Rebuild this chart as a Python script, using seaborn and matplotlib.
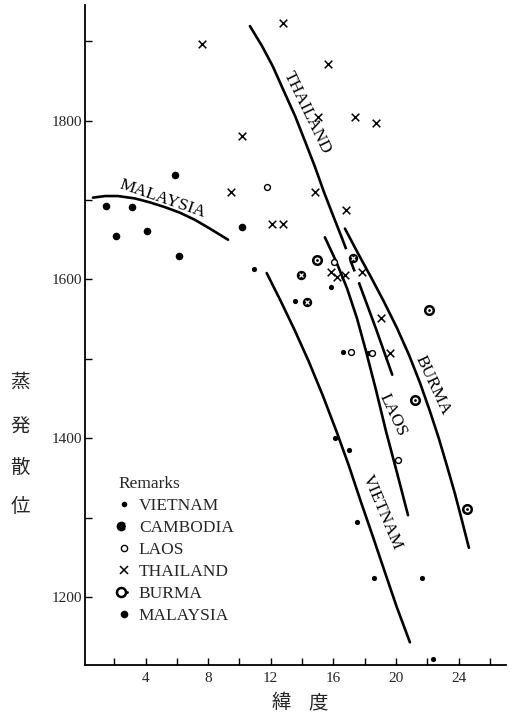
import matplotlib
matplotlib.use("Agg")
import matplotlib.pyplot as plt
from matplotlib.lines import Line2D
from matplotlib.legend_handler import HandlerTuple
import seaborn as sns
import pandas as pd

# ---- observations: latitude (deg) vs potential evapotranspiration ----
vietnam_lat = [10.93, 15.85, 13.55, 16.63, 18.20, 16.10, 17.02, 17.53, 18.60, 21.64, 22.34]
vietnam_pe = [1613, 1590, 1573, 1508, 1507, 1400, 1385, 1294, 1224, 1224, 1122]

cambodia_lat = [13.93, 14.29, 17.27]
cambodia_pe = [1606, 1572, 1627]

laos_lat = [11.74, 16.04, 17.10, 18.50, 20.15]
laos_pe = [1716, 1622, 1508, 1507, 1372]

thailand_lat = [7.58, 10.14, 9.44, 12.06, 12.80, 12.80, 15.63, 15.04, 17.38, 18.70,
                14.82, 16.78, 15.85, 16.21, 16.74, 17.80, 19.02, 19.60]
thailand_pe = [1896, 1781, 1710, 1670, 1670, 1923, 1871, 1804, 1804, 1797,
               1710, 1687, 1609, 1603, 1606, 1609, 1552, 1507]

burma_lat = [14.93, 22.13, 21.21, 24.52]
burma_pe = [1624, 1562, 1448, 1311]

malaysia_lat = [1.45, 3.15, 2.11, 4.07, 5.88, 6.13, 10.18]
malaysia_pe = [1692, 1691, 1655, 1661, 1731, 1629, 1666]

# ---- hand-drawn trend curves ----
malaysia_curve_x = [0.64, 1.41, 2.24, 3.32, 4.28, 5.24, 6.20, 7.16, 8.11, 9.27]
malaysia_curve_y = [1703, 1705, 1705, 1702, 1697, 1691, 1684, 1675, 1664, 1650]

thailand_curve_x = [10.67, 11.44, 12.14, 12.84, 13.55, 14.19, 14.82, 15.40, 15.97, 16.55]
thailand_curve_y = [1919, 1894, 1868, 1837, 1806, 1774, 1742, 1710, 1681, 1652]
thailand_dash_x = [16.55, 17.65]
thailand_dash_y = [1652, 1595]
thailand_tail_x = [17.65, 18.72, 19.76]
thailand_tail_y = [1595, 1538, 1480]

laos_curve_x = [15.46, 16.17, 16.87, 17.51, 18.08, 18.72, 19.36, 20.06, 20.77]
laos_curve_y = [1653, 1623, 1589, 1551, 1510, 1461, 1409, 1357, 1303]

burma_curve_x = [16.74, 17.57, 18.40, 19.23, 20.06, 20.83, 21.53, 22.17, 22.75,
                 23.26, 23.77, 24.22, 24.66]
burma_curve_y = [1664, 1633, 1603, 1572, 1539, 1505, 1470, 1434, 1399,
                 1365, 1330, 1296, 1262]

vietnam_curve_x = [11.74, 12.63, 13.53, 14.42, 15.32, 16.21, 16.98, 17.74, 18.51,
                   19.28, 20.04, 20.89]
vietnam_curve_y = [1608, 1573, 1536, 1497, 1454, 1408, 1366, 1321, 1277,
                   1232, 1188, 1143]

curve_labels = ["MALAYSIA", "THAILAND", "BURMA", "LAOS", "VIETNAM"]
label_x = [5.11, 14.30, 22.33, 19.78, 19.09]
label_y = [1701, 1810, 1467, 1429, 1307]
label_rot = [-19, -64, -65, -65, -67]

x_major = [4, 8, 12, 16, 20, 24]
x_minor = [2, 6, 10, 14, 18, 22, 26]
y_major = [1200, 1400, 1600, 1800]
y_minor = [1300, 1500, 1700, 1900]

ylabel_chars = ["蒸", "発", "散", "位"]
xlabel_chars = ["緯", "度"]

# ---------------------------------------------------------------------
sns.set_style("ticks")
SERIF = ["Liberation Serif", "DejaVu Serif"]
CJK = ["Noto Sans CJK JP", "DejaVu Sans"]
plt.rcParams["font.family"] = SERIF

W, H = 511, 717
fig = plt.figure(figsize=(W / 100, H / 100), dpi=100)
fig.patch.set_facecolor("white")
ax = fig.add_axes([84.5 / W, 1 - 665 / H, (506 - 84.5) / W, (665 - 5) / H])
ax.set_facecolor("white")


def df(x, y):
    return pd.DataFrame({"lat": x, "pe": y})


# trend curves
line_kw = dict(color="black", linewidth=1.9, sort=False, estimator=None, ax=ax, legend=False)
for cx, cy in [(malaysia_curve_x, malaysia_curve_y), (thailand_curve_x, thailand_curve_y),
               (thailand_tail_x, thailand_tail_y), (laos_curve_x, laos_curve_y),
               (burma_curve_x, burma_curve_y), (vietnam_curve_x, vietnam_curve_y)]:
    sns.lineplot(data=df(cx, cy), x="lat", y="pe", **line_kw)
    ax.lines[-1].set_solid_joinstyle("round")
sns.lineplot(data=df(thailand_dash_x, thailand_dash_y), x="lat", y="pe", **line_kw)
ax.lines[-1].set_dashes([4.5, 4.5])
ax.lines[-1].set_dash_capstyle("butt")

# station markers
sns.scatterplot(data=df(vietnam_lat, vietnam_pe), x="lat", y="pe", ax=ax,
                marker="o", s=14, color="black", edgecolor="black", linewidth=0, zorder=3)
sns.scatterplot(data=df(cambodia_lat, cambodia_pe), x="lat", y="pe", ax=ax,
                marker="o", s=46, color="black", edgecolor="black", linewidth=0, zorder=3)
sns.scatterplot(data=df(cambodia_lat, cambodia_pe), x="lat", y="pe", ax=ax,
                marker="x", s=8, color="white", linewidth=0.9, zorder=4)
sns.scatterplot(data=df(laos_lat, laos_pe), x="lat", y="pe", ax=ax,
                marker="o", s=18, facecolor="white", edgecolor="black", linewidth=1.0, zorder=3)
sns.scatterplot(data=df(thailand_lat, thailand_pe), x="lat", y="pe", ax=ax,
                marker="x", s=30, color="black", linewidth=1.1, zorder=3)
sns.scatterplot(data=df(burma_lat, burma_pe), x="lat", y="pe", ax=ax,
                marker="o", s=38, facecolor="white", edgecolor="black", linewidth=1.8, zorder=3)
sns.scatterplot(data=df(burma_lat, burma_pe), x="lat", y="pe", ax=ax,
                marker="o", s=4, color="black", linewidth=0, zorder=4)
sns.scatterplot(data=df(malaysia_lat, malaysia_pe), x="lat", y="pe", ax=ax,
                marker="o", s=30, color="black", edgecolor="black", linewidth=0, zorder=3)

# curve names
for t, lx, ly, r in zip(curve_labels, label_x, label_y, label_rot):
    ax.text(lx, ly, t, rotation=r, rotation_mode="anchor", ha="center", va="center",
            fontsize=12.5, family=SERIF, color="black")

# axes
ax.set_xlim(0.1, 27.03)
ax.set_ylim(1114.4, 1945.6)
ax.set_xticks(x_major)
ax.set_xticks(x_minor, minor=True)
ax.set_yticks(y_major)
ax.set_yticks(y_minor, minor=True)
ax.set_xticklabels([str(v) for v in x_major], fontsize=11)
ax.set_yticklabels([str(v) for v in y_major], fontsize=11)
ax.tick_params(which="both", direction="in", length=5, width=1.0, color="black")
ax.tick_params(axis="x", which="major", pad=5)
ax.tick_params(axis="y", which="major", pad=2)
ax.set_xlabel("")
ax.set_ylabel("")
sns.despine(ax=ax)
for sp in ("left", "bottom"):
    ax.spines[sp].set_linewidth(1.3)
    ax.spines[sp].set_color("black")

# legend
handles = [
    Line2D([], [], ls="none", marker="o", ms=4, color="black", mew=0),
    (Line2D([], [], ls="none", marker="o", ms=7, color="black", mew=0),
     Line2D([], [], ls="none", marker="x", ms=3.5, color="white", mew=1.0)),
    Line2D([], [], ls="none", marker="o", ms=4.5, mfc="white", mec="black", mew=1.0),
    Line2D([], [], ls="none", marker="x", ms=5.5, color="black", mew=1.1),
    (Line2D([], [], ls="none", marker="o", ms=6.5, mfc="white", mec="black", mew=1.8),
     Line2D([], [], ls="none", marker="o", ms=2, color="black", mew=0)),
    Line2D([], [], ls="none", marker="o", ms=5.5, color="black", mew=0),
]
names = ["VIETNAM", "CAMBODIA", "LAOS", "THAILAND", "BURMA", "MALAYSIA"]
leg = ax.legend(handles, names, title="Remarks", loc="upper left",
                bbox_to_anchor=(118 / W, 1 - 476 / H), bbox_transform=fig.transFigure,
                frameon=False, fontsize=12.5, title_fontsize=12.5, alignment="left",
                handlelength=0.7, handletextpad=0.5, labelspacing=0.34, borderpad=0,
                borderaxespad=0, handler_map={tuple: HandlerTuple(ndivide=None, pad=0)})
for t in leg.get_texts():
    t.set_family(SERIF)
leg.get_title().set_family(SERIF)

# axis titles
for ch, py in zip(ylabel_chars, [382, 427, 467, 507]):
    fig.text(20 / W, 1 - py / H, ch, ha="center", va="center", fontsize=14, family=CJK)
for ch, px in zip(xlabel_chars, [281, 318]):
    fig.text(px / W, 1 - 703 / H, ch, ha="center", va="center", fontsize=14, family=CJK)

fig.savefig("out.png", dpi=100, facecolor="white")
